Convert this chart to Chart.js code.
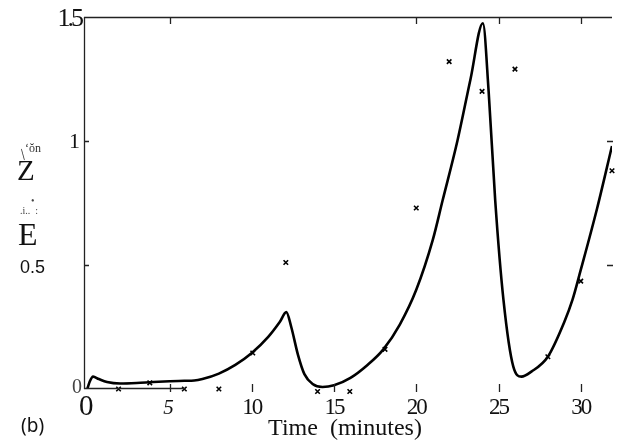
<!DOCTYPE html>
<html>
<head>
<meta charset="utf-8">
<script src="https://cdn.jsdelivr.net/npm/chart.js@4.4.1/dist/chart.umd.min.js"></script>
<style>
html,body{margin:0;padding:0;background:#fff;}
#wrap{width:620px;height:443px;position:relative;}
</style>
</head>
<body>
<div id="wrap"><canvas id="c" width="620" height="443"></canvas></div>
<script>
// Model curve
const curveX = [0, 0.15, 0.35, 0.7, 1.2, 2, 3, 4, 5, 5.9, 6.5, 7, 8, 9, 10, 11, 11.7, 12.1, 12.4, 12.8, 13.2, 13.7, 14.3, 15, 16, 17, 18, 19, 20, 21, 21.6, 22.5, 23.3, 24.05, 24.4, 24.8, 25.3, 25.9, 26.4, 27, 28, 29, 29.5, 30, 31, 31.9];
const curveY = [0, 0.03, 0.05, 0.04, 0.028, 0.022, 0.024, 0.028, 0.031, 0.033, 0.034, 0.04, 0.062, 0.097, 0.145, 0.21, 0.27, 0.31, 0.25, 0.14, 0.06, 0.02, 0.008, 0.015, 0.045, 0.095, 0.16, 0.26, 0.4, 0.6, 0.76, 1.0, 1.25, 1.475, 1.2, 0.76, 0.36, 0.09, 0.05, 0.07, 0.13, 0.27, 0.36, 0.48, 0.73, 0.98];
// Measured points (x marks)
const obsX = [1.9, 3.8, 5.9, 8.0, 10.06, 12.07, 14.0, 15.96, 18.1, 20.0, 22.0, 24.0, 26.0, 28.0, 30.0, 31.9];
const obsY = [0.0, 0.025, 0.0, 0.0, 0.145, 0.51, -0.01, -0.01, 0.16, 0.73, 1.32, 1.2, 1.29, 0.13, 0.435, 0.88];
// Axis ticks
const xTicks = [0, 5, 10, 15, 20, 25, 30];
const xTickLabels = ['0', '5', '10', '15', '20', '25', '30'];
const xTopTicks = [5, 20, 25, 30];
const yTicks = [0, 0.5, 1, 1.5];
const yTickLabels = ['0', '0.5', '1', '1.5'];
const xTitle = 'Time  (minutes)';
const panelLabel = '(b)';

const curveData = curveX.map((x, i) => ({x: x, y: curveY[i]}));
const obsData = obsX.map((x, i) => ({x: x, y: obsY[i]}));

const decor = {
  id: 'decor',
  afterDraw(chart) {
    const ctx = chart.ctx;
    const xs = chart.scales.x, ys = chart.scales.y;
    const a = chart.chartArea;
    ctx.save();
    ctx.strokeStyle = '#222';
    ctx.fillStyle = '#111';
    ctx.lineWidth = 1.3;
    // left border
    ctx.beginPath();
    ctx.moveTo(a.left + 0.5, a.top); ctx.lineTo(a.left + 0.5, a.bottom);
    // top border
    ctx.moveTo(a.left, a.top + 0.5); ctx.lineTo(a.right, a.top + 0.5);
    // bottom partial border
    ctx.moveTo(a.left, a.bottom - 0.5); ctx.lineTo(xs.getPixelForValue(6), a.bottom - 0.5);
    ctx.stroke();
    // ticks
    ctx.lineWidth = 1.3;
    ctx.beginPath();
    xTicks.forEach(v => {
      if (v === 0) return;
      const px = Math.round(xs.getPixelForValue(v)) + 0.5;
      ctx.moveTo(px, a.bottom - 5); ctx.lineTo(px, a.bottom + 3);
    });
    xTopTicks.forEach(v => {
      const px = Math.round(xs.getPixelForValue(v)) + 0.5;
      ctx.moveTo(px, a.top); ctx.lineTo(px, a.top + 7);
    });
    [0.5, 1].forEach(v => {
      const py = Math.round(ys.getPixelForValue(v)) + 0.5;
      ctx.moveTo(a.left, py); ctx.lineTo(a.left + 5, py);
      ctx.moveTo(a.right - 5, py); ctx.lineTo(a.right + 1, py);
    });
    ctx.stroke();

    // x tick labels
    ctx.textAlign = 'center';
    ctx.textBaseline = 'alphabetic';
    xTicks.forEach((v, i) => {
      const px = xs.getPixelForValue(v);
      if (v === 0) {
        ctx.font = '29px "Liberation Serif"';
        ctx.fillText(xTickLabels[i], px - 1, a.bottom + 26);
      } else if (v === 5) {
        ctx.font = 'italic 21px "Liberation Serif"';
        ctx.fillText(xTickLabels[i], px - 1, a.bottom + 25);
      } else {
        ctx.font = '23px "Liberation Serif"';
        if ('letterSpacing' in ctx) ctx.letterSpacing = '-2px';
        ctx.fillText(xTickLabels[i], px, a.bottom + 25);
        if ('letterSpacing' in ctx) ctx.letterSpacing = '0px';
      }
    });
    // y tick labels
    ctx.textAlign = 'right';
    yTicks.forEach((v, i) => {
      const py = ys.getPixelForValue(v);
      if (v === 1.5) {
        ctx.font = '26px "Liberation Serif"';
        if ('letterSpacing' in ctx) ctx.letterSpacing = '-3px';
        ctx.fillText(yTickLabels[i], a.left - 3, py + 9);
        if ('letterSpacing' in ctx) ctx.letterSpacing = '0px';
      } else if (v === 1) {
        ctx.font = '22px "Liberation Serif"';
        ctx.fillText(yTickLabels[i], a.left - 4, py + 7);
      } else if (v === 0.5) {
        ctx.font = '18px "Liberation Sans"';
        ctx.textAlign = 'left';
        ctx.fillText(yTickLabels[i], 20, py + 8);
        ctx.textAlign = 'right';
      } else {
        ctx.font = '20px "Liberation Serif"';
        ctx.fillStyle = '#444';
        ctx.fillText(yTickLabels[i], a.left - 2, py + 4);
        ctx.fillStyle = '#111';
      }
    });
    // x title
    ctx.textAlign = 'center';
    ctx.font = '24px "Liberation Serif"';
    ctx.fillText(xTitle, 345, 435);
    // panel label
    ctx.textAlign = 'left';
    ctx.font = '19px "Noto Sans"';
    ctx.fillText(panelLabel, 21, 432);
    // garbled y-axis label pieces
    ctx.fillStyle = '#333';
    ctx.font = '12px "Liberation Serif"';
    ctx.fillText('\u02bb\u014fn', 25, 152);
    ctx.font = '16px "Liberation Serif"';
    ctx.save();
    ctx.translate(24, 160);
    ctx.rotate(-0.6);
    ctx.fillText('/', 0, 0);
    ctx.restore();
    ctx.fillStyle = '#111';
    ctx.font = '29px "Liberation Serif"';
    ctx.fillText('Z', 17, 180);
    ctx.font = '10px "Liberation Serif"';
    ctx.fillStyle = '#444';
    ctx.fillText('.i..  :', 20, 214);
    ctx.fillText('\u2022', 31, 204);
    ctx.fillStyle = '#111';
    ctx.font = '32px "Liberation Serif"';
    ctx.fillText('E', 18, 245);
    ctx.restore();
  }
};

new Chart(document.getElementById('c'), {
  type: 'scatter',
  data: {
    datasets: [
      {
        label: 'model',
        data: curveData,
        showLine: true,
        borderColor: '#000',
        borderWidth: 2.6,
        pointRadius: 0,
        cubicInterpolationMode: 'monotone',
        fill: false
      },
      {
        label: 'data',
        data: obsData,
        showLine: false,
        pointStyle: 'crossRot',
        pointRadius: 3.2,
        borderColor: '#000',
        borderWidth: 1.6,
        clip: false
      }
    ]
  },
  options: {
    responsive: false,
    animation: false,
    devicePixelRatio: 1,
    layout: {padding: {left: 84, top: 17, right: 8, bottom: 54}},
    plugins: {legend: {display: false}, tooltip: {enabled: false}},
    scales: {
      x: {type: 'linear', min: -0.2, max: 31.9, display: false},
      y: {type: 'linear', min: 0, max: 1.5, display: false}
    }
  },
  plugins: [decor]
});
</script>
</body>
</html>
